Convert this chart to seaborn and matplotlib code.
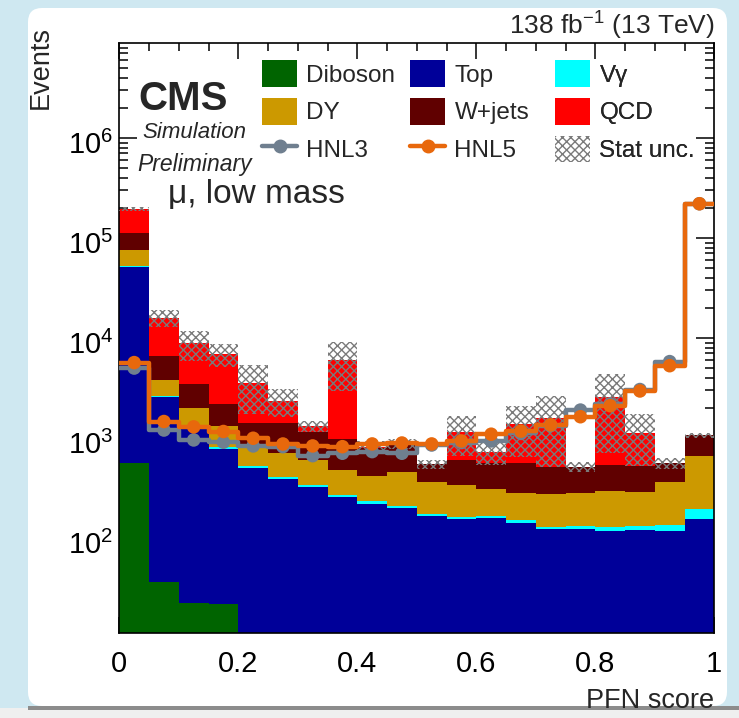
import numpy as np
import pandas as pd
import matplotlib
matplotlib.use("Agg")
import matplotlib.pyplot as plt
import matplotlib.ticker as mticker
import matplotlib.transforms as mtrans
from matplotlib.patches import FancyBboxPatch, Patch, Rectangle
from matplotlib.lines import Line2D
import seaborn as sns

# ---------------- data (20 bins of PFN score, width 0.05) ----------------
bin_edges = [round(0.05 * i, 2) for i in range(21)]
bin_centers = [round(0.05 * i + 0.025, 3) for i in range(20)]

diboson = [566, 36.6, 22.5, 21.9, 0, 0, 0, 0, 0, 0, 0, 0, 0, 0, 0, 0, 0, 0, 0, 0]
top = [50434, 2513, 1218, 755, 506, 387, 320, 258, 220, 197,
       164, 154, 158, 140, 122, 122, 117, 120, 117, 154]
vgamma = [1500, 80, 40, 41, 22, 17, 19, 11, 12, 12,
          9, 7, 6, 11, 6, 10, 13, 12, 18, 41]
dy = [23500, 1170, 720, 502, 261, 299, 264, 206, 185, 252,
      193, 177, 145, 129, 146, 148, 165, 158, 231, 470]
wjets = [37000, 2850, 1500, 880, 631, 717, 557, 495, 383, 398,
         179, 264, 257, 286, 243, 237, 242, 235, 192, 405]
qcd = [81000, 9350, 5350, 4700, 2150, 940, 160, 5030, 15, 15,
       0, 557, 164, 804, 1053, 0, 2013, 605, 0, 0]
stat_unc = [10000, 3000, 2950, 1800, 1830, 730, 160, 3060, 120, 92,
            59, 500, 192, 730, 1060, 63, 1850, 600, 68, 60]
hnl3 = [5000, 1200, 955, 906, 832, 818, 665, 703, 730, 703,
        850, 900, 933, 1110, 1330, 1900, 2190, 3050, 5800, 220000]
hnl5 = [5670, 1460, 1290, 1160, 993, 870, 832, 818, 871, 890,
        871, 933, 1090, 1170, 1350, 1630, 2100, 2950, 5280, 220000]

x_ticks = [0.0, 0.2, 0.4, 0.6, 0.8, 1.0]
x_tick_labels = ["0", "0.2", "0.4", "0.6", "0.8", "1"]
y_ticks = [1e2, 1e3, 1e4, 1e5, 1e6]

# stacking order for seaborn: first level ends on top
processes = ["QCD", "W+jets", "DY", "Vγ", "Top", "Diboson"]
series = {"QCD": qcd, "W+jets": wjets, "DY": dy, "Vγ": vgamma,
          "Top": top, "Diboson": diboson}
colors = {"Diboson": "#006400", "Top": "#000099", "Vγ": "#00ffff",
          "DY": "#cc9900", "W+jets": "#600000", "QCD": "#ff0000"}
c_hnl3 = "#6f7f8f"
c_hnl5 = "#e8680c"
c_hatch = "#7a7a7a"

df = pd.DataFrame({
    "x": np.tile(bin_centers, len(processes)),
    "w": np.concatenate([series[p] for p in processes]).astype(float),
    "process": np.repeat(processes, len(bin_centers)),
})

total = np.sum([np.asarray(series[p], float) for p in processes], axis=0)
unc = np.asarray(stat_unc, float)

# ---------------- style ----------------
sns.set_style("ticks")
plt.rcParams["font.family"] = ["Liberation Sans", "DejaVu Sans"]
plt.rcParams["mathtext.default"] = "regular"
plt.rcParams["hatch.linewidth"] = 1.0

W, H = 739, 718
fig = plt.figure(figsize=(W / 100, H / 100), dpi=100, facecolor="#cfe8f1")

# paper-like white background
paper = FancyBboxPatch((28, 12), 699, 698,
                       boxstyle="round,pad=0,rounding_size=14",
                       transform=None, facecolor="white", edgecolor="none",
                       zorder=-10)
fig.patches.append(paper)
fig.patches.append(Rectangle((0, 0), W, 10, transform=None,
                             facecolor="#efefef", edgecolor="none", zorder=-9))
fig.patches.append(Rectangle((28, 8), W - 28, 4, transform=None,
                             facecolor="#8c8c8c", edgecolor="none", zorder=-8))

ax = fig.add_axes([119.3 / W, 1 - 633 / H, 595 / W, 589.7 / H])
ax.set_facecolor("white")
ax.set_yscale("log")

sns.histplot(data=df, x="x", weights="w", hue="process", hue_order=processes,
             multiple="stack", bins=bin_edges, element="step", fill=True,
             palette=colors, alpha=1.0, linewidth=0, legend=False, ax=ax)

# statistical uncertainty band
ax.bar(bin_centers, 2 * unc, bottom=total - unc, width=0.05, align="center",
       fill=False, hatch="xxxx", edgecolor=c_hatch, linewidth=0, zorder=3)

# signal step lines + markers
for vals, col in [(hnl3, c_hnl3), (hnl5, c_hnl5)]:
    sns.histplot(x=bin_centers, weights=vals, bins=bin_edges, element="step",
                 fill=False, color=col, linewidth=3.2, ax=ax, zorder=4)
    sns.scatterplot(x=bin_centers, y=vals, color=col, s=95, edgecolor="none",
                    ax=ax, zorder=5, legend=False)

ax.set_xlim(0, 1)
ax.set_ylim(11.2, 8.85e6)

ax.set_xticks(x_ticks)
ax.set_xticklabels(x_tick_labels)
ax.xaxis.set_minor_locator(mticker.MultipleLocator(0.05))
ax.set_yticks(y_ticks)
ax.yaxis.set_major_formatter(mticker.LogFormatterSciNotation())
ax.yaxis.set_minor_locator(mticker.LogLocator(base=10, subs=np.arange(2, 10), numticks=20))
ax.yaxis.set_minor_formatter(mticker.NullFormatter())

ax.tick_params(which="both", direction="in", top=True, right=True,
               width=1.1, colors="black", labelsize=21)
ax.tick_params(axis="x", which="major", length=11.5, pad=12.5)
ax.tick_params(axis="x", which="minor", length=5.8)
ax.tick_params(axis="y", which="major", length=13, pad=4.5)
ax.tick_params(axis="y", which="minor", length=6.5)
for s in ax.spines.values():
    s.set_linewidth(1.2)
    s.set_color("black")

# y tick labels sit slightly below their ticks (ROOT style)
shift = mtrans.ScaledTranslation(0, -4 / 100, fig.dpi_scale_trans)
for t in ax.yaxis.get_major_ticks():
    t.label1.set_transform(t.label1.get_transform() + shift)

ax.set_xlabel("PFN score", fontsize=19.5, loc="right")
ax.xaxis.set_label_coords(1.0, -0.093)
ax.set_ylabel("Events", fontsize=19.5, loc="top")
ax.yaxis.set_label_coords(-0.11, 1.03)

ax.text(1.0, 1.003, r"138 fb$^{-1}$ (13 TeV)", transform=ax.transAxes,
        ha="right", va="bottom", fontsize=19)
ax.text(0.108, 0.906, "CMS", transform=ax.transAxes, ha="center",
        va="center", fontsize=29, fontweight="bold")
ax.text(0.127, 0.848, "Simulation", transform=ax.transAxes, ha="center",
        va="center", fontsize=16, style="italic")
ax.text(0.127, 0.795, "Preliminary", transform=ax.transAxes, ha="center",
        va="center", fontsize=16.5, style="italic")
ax.text(0.082, 0.744, "μ, low mass", transform=ax.transAxes, ha="left",
        va="center", fontsize=24)

# legend: three columns
col_handles = [
    [(Patch(facecolor=colors["Diboson"], edgecolor="none"), "Diboson"),
     (Patch(facecolor=colors["DY"], edgecolor="none"), "DY"),
     (Line2D([], [], color=c_hnl3, lw=3.2, marker="o", ms=9), "HNL3")],
    [(Patch(facecolor=colors["Top"], edgecolor="none"), "Top"),
     (Patch(facecolor=colors["W+jets"], edgecolor="none"), "W+jets"),
     (Line2D([], [], color=c_hnl5, lw=3.2, marker="o", ms=9), "HNL5")],
    [(Patch(facecolor=colors["Vγ"], edgecolor="none"), "Vγ"),
     (Patch(facecolor=colors["QCD"], edgecolor="none"), "QCD"),
     (Patch(facecolor="white", edgecolor=c_hatch, hatch="xxxx", linewidth=0), "Stat unc.")],
]
col_x = [(262 - 119.3) / 595, (410 - 119.3) / 595, (555 - 119.3) / 595]
for cx, entries in zip(col_x, col_handles):
    leg = ax.legend([h for h, _ in entries], [l for _, l in entries],
                    loc="upper left", bbox_to_anchor=(cx, 0.971),
                    frameon=False, fontsize=17.5, handlelength=1.45,
                    handleheight=1.3, handletextpad=0.38, labelspacing=0.46,
                    borderpad=0, borderaxespad=0)
    ax.add_artist(leg)

fig.savefig("out.png", dpi=100, facecolor=fig.get_facecolor())
